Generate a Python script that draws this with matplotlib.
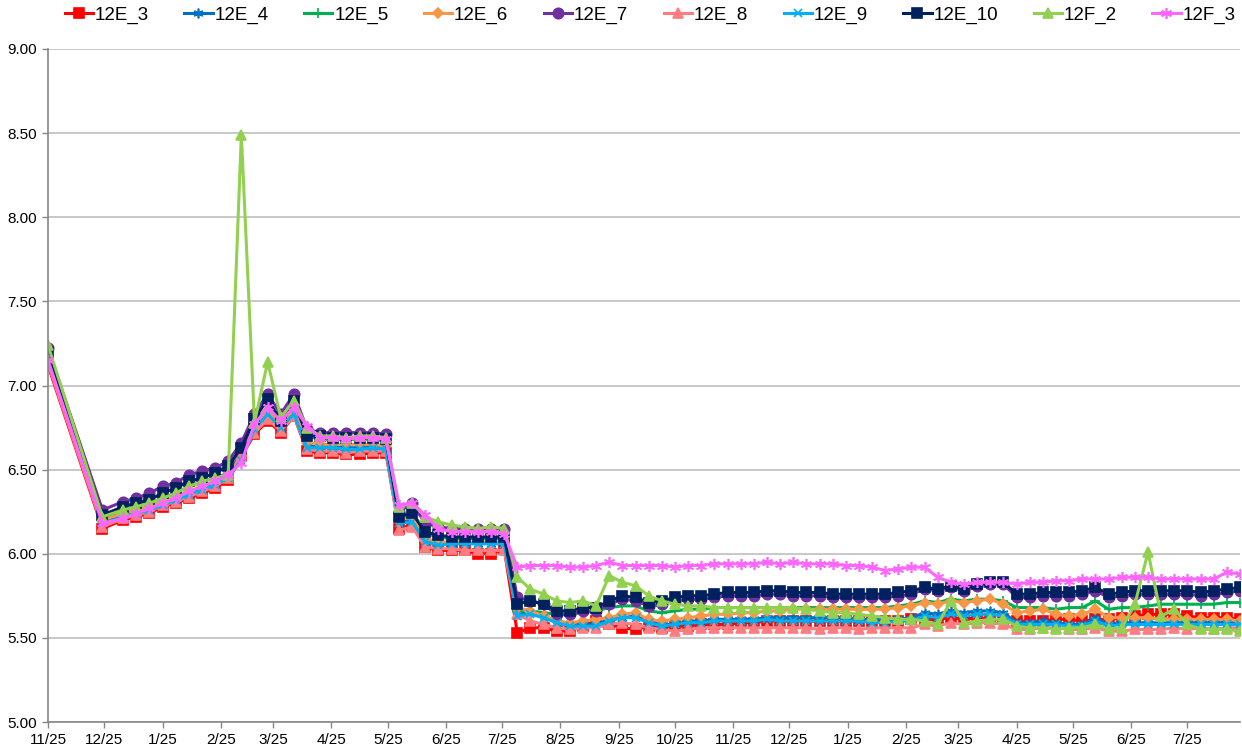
import numpy as np
import pandas as pd
import matplotlib
matplotlib.use('Agg')
import matplotlib.pyplot as plt

plt.rcParams['font.family'] = ['Liberation Sans Narrow', 'Liberation Sans', 'DejaVu Sans']

# 日期：首两个点 + 每周一个点
dates = list(pd.to_datetime(['2012-11-25', '2012-12-24'])) + list(pd.date_range('2013-01-04', periods=86, freq='7D'))
tick_dates = pd.date_range('2012-11-25', '2014-07-25', freq=pd.DateOffset(months=1))
tick_labels = [f"{d.month}/{d.day}" for d in tick_dates]

s_12E_3 = [7.12, 6.15, 6.20, 6.22, 6.24, 6.28, 6.30, 6.33, 6.36, 6.39, 6.44,
           6.58, 6.71, 6.79, 6.72, 6.82, 6.61, 6.60, 6.60, 6.59, 6.59, 6.60, 6.60,
           6.15, 6.17, 6.04, 6.02, 6.02, 6.02, 6.00, 6.00, 6.03,
           5.53, 5.56, 5.56, 5.54, 5.54, 5.57, 5.60, 5.58, 5.56, 5.55,
           5.57, 5.56, 5.57, 5.57, 5.58, 5.58, 5.58, 5.59, 5.59, 5.60,
           5.60, 5.60, 5.60, 5.60, 5.60, 5.60, 5.60, 5.60, 5.60, 5.60,
           5.61, 5.61, 5.61, 5.62, 5.61, 5.62, 5.61, 5.61, 5.60, 5.60,
           5.60, 5.61, 5.61, 5.60, 5.61, 5.61, 5.62, 5.63, 5.64, 5.64,
           5.64, 5.63, 5.62, 5.62, 5.62, 5.61]
s_12E_4 = [7.17, 6.19, 6.23, 6.25, 6.27, 6.30, 6.33, 6.36, 6.39, 6.42, 6.46,
           6.57, 6.75, 6.84, 6.76, 6.85, 6.64, 6.64, 6.64, 6.63, 6.63, 6.64, 6.63,
           6.19, 6.20, 6.08, 6.06, 6.06, 6.06, 6.06, 6.06, 6.06,
           5.64, 5.65, 5.63, 5.60, 5.58, 5.58, 5.58, 5.61, 5.62, 5.63,
           5.60, 5.58, 5.58, 5.60, 5.60, 5.61, 5.61, 5.61, 5.61, 5.62,
           5.62, 5.62, 5.62, 5.62, 5.62, 5.62, 5.61, 5.61, 5.61, 5.61,
           5.62, 5.65, 5.64, 5.66, 5.65, 5.66, 5.66, 5.65, 5.59, 5.59,
           5.60, 5.59, 5.58, 5.58, 5.62, 5.58, 5.59, 5.59, 5.59, 5.59,
           5.59, 5.59, 5.59, 5.59, 5.59, 5.59]
s_12E_5 = [7.19, 6.21, 6.26, 6.28, 6.30, 6.33, 6.36, 6.40, 6.43, 6.45, 6.48,
           6.60, 6.76, 6.88, 6.78, 6.88, 6.70, 6.68, 6.68, 6.68, 6.68, 6.68, 6.67,
           6.22, 6.25, 6.12, 6.10, 6.09, 6.09, 6.09, 6.09, 6.09,
           5.66, 5.66, 5.65, 5.64, 5.64, 5.65, 5.66, 5.68, 5.69, 5.69,
           5.66, 5.65, 5.66, 5.67, 5.67, 5.68, 5.68, 5.68, 5.68, 5.68,
           5.68, 5.68, 5.68, 5.68, 5.68, 5.68, 5.68, 5.68, 5.68, 5.69,
           5.70, 5.72, 5.71, 5.73, 5.72, 5.73, 5.73, 5.72, 5.68, 5.68,
           5.68, 5.67, 5.68, 5.68, 5.72, 5.67, 5.68, 5.68, 5.69, 5.70,
           5.70, 5.70, 5.70, 5.70, 5.71, 5.71]
s_12E_6 = [7.18, 6.20, 6.24, 6.26, 6.28, 6.31, 6.34, 6.37, 6.40, 6.43, 6.46,
           6.58, 6.74, 6.85, 6.77, 6.86, 6.66, 6.65, 6.65, 6.65, 6.65, 6.65, 6.64,
           6.20, 6.22, 6.09, 6.07, 6.07, 6.07, 6.07, 6.07, 6.07,
           5.68, 5.66, 5.63, 5.60, 5.59, 5.60, 5.61, 5.62, 5.64, 5.65,
           5.61, 5.60, 5.61, 5.62, 5.63, 5.64, 5.64, 5.65, 5.65, 5.66,
           5.66, 5.67, 5.67, 5.67, 5.67, 5.67, 5.67, 5.67, 5.67, 5.68,
           5.69, 5.71, 5.70, 5.72, 5.71, 5.72, 5.73, 5.70, 5.65, 5.66,
           5.67, 5.64, 5.63, 5.64, 5.67, 5.62, 5.62, 5.62, 5.62, 5.61,
           5.61, 5.61, 5.61, 5.61, 5.61, 5.60]
s_12E_7 = [7.22, 6.26, 6.31, 6.33, 6.36, 6.40, 6.42, 6.47, 6.49, 6.51, 6.55,
           6.66, 6.83, 6.95, 6.83, 6.95, 6.74, 6.72, 6.72, 6.72, 6.72, 6.72, 6.71,
           6.25, 6.30, 6.18, 6.16, 6.15, 6.15, 6.15, 6.15, 6.15,
           5.74, 5.72, 5.70, 5.64, 5.64, 5.66, 5.66, 5.70, 5.73, 5.72,
           5.69, 5.70, 5.72, 5.73, 5.73, 5.74, 5.75, 5.75, 5.75, 5.76,
           5.76, 5.75, 5.75, 5.75, 5.74, 5.74, 5.74, 5.74, 5.74, 5.75,
           5.76, 5.79, 5.78, 5.80, 5.78, 5.81, 5.82, 5.82, 5.74, 5.74,
           5.75, 5.75, 5.75, 5.76, 5.78, 5.74, 5.75, 5.76, 5.76, 5.76,
           5.76, 5.76, 5.75, 5.76, 5.77, 5.78]
s_12E_8 = [7.13, 6.16, 6.21, 6.23, 6.25, 6.29, 6.31, 6.34, 6.37, 6.40, 6.45,
           6.59, 6.72, 6.80, 6.73, 6.82, 6.62, 6.61, 6.61, 6.60, 6.61, 6.61, 6.61,
           6.14, 6.16, 6.04, 6.03, 6.03, 6.02, 6.02, 6.02, 6.02,
           5.64, 5.60, 5.58, 5.56, 5.55, 5.56, 5.56, 5.58, 5.59, 5.58,
           5.56, 5.55, 5.54, 5.55, 5.56, 5.56, 5.56, 5.56, 5.56, 5.56,
           5.56, 5.56, 5.56, 5.55, 5.56, 5.56, 5.55, 5.56, 5.56, 5.56,
           5.56, 5.58, 5.57, 5.59, 5.58, 5.59, 5.59, 5.58, 5.55, 5.55,
           5.56, 5.56, 5.55, 5.55, 5.56, 5.54, 5.54, 5.55, 5.55, 5.55,
           5.56, 5.55, 5.56, 5.55, 5.56, 5.56]
s_12E_9 = [7.16, 6.18, 6.22, 6.24, 6.26, 6.29, 6.32, 6.35, 6.38, 6.41, 6.45,
           6.56, 6.74, 6.83, 6.75, 6.83, 6.63, 6.63, 6.63, 6.62, 6.62, 6.63, 6.62,
           6.18, 6.19, 6.07, 6.05, 6.06, 6.06, 6.06, 6.06, 6.06,
           5.63, 5.64, 5.62, 5.59, 5.57, 5.57, 5.57, 5.60, 5.62, 5.62,
           5.59, 5.57, 5.58, 5.59, 5.59, 5.60, 5.60, 5.60, 5.60, 5.61,
           5.60, 5.60, 5.60, 5.60, 5.60, 5.60, 5.60, 5.59, 5.59, 5.60,
           5.60, 5.63, 5.62, 5.64, 5.63, 5.64, 5.64, 5.63, 5.58, 5.58,
           5.58, 5.58, 5.57, 5.57, 5.60, 5.57, 5.58, 5.58, 5.58, 5.58,
           5.58, 5.58, 5.58, 5.58, 5.58, 5.58]
s_12E_10 = [7.20, 6.23, 6.28, 6.30, 6.32, 6.36, 6.39, 6.43, 6.45, 6.48, 6.52,
            6.63, 6.80, 6.92, 6.79, 6.91, 6.70, 6.70, 6.69, 6.69, 6.69, 6.69, 6.68,
            6.22, 6.24, 6.13, 6.11, 6.10, 6.10, 6.10, 6.10, 6.10,
            5.70, 5.72, 5.70, 5.66, 5.66, 5.68, 5.68, 5.72, 5.75, 5.74,
            5.71, 5.72, 5.74, 5.75, 5.75, 5.76, 5.77, 5.77, 5.77, 5.78,
            5.78, 5.77, 5.77, 5.77, 5.76, 5.76, 5.76, 5.76, 5.76, 5.77,
            5.78, 5.80, 5.79, 5.81, 5.79, 5.82, 5.83, 5.83, 5.76, 5.76,
            5.77, 5.77, 5.77, 5.78, 5.80, 5.76, 5.77, 5.78, 5.78, 5.78,
            5.78, 5.78, 5.77, 5.78, 5.79, 5.80]
s_12F_2 = [7.24, 6.22, 6.26, 6.28, 6.30, 6.33, 6.36, 6.40, 6.43, 6.45, 6.47,
           8.49, 6.78, 7.14, 6.81, 6.91, 6.75, 6.70, 6.70, 6.69, 6.70, 6.70, 6.69,
           6.28, 6.30, 6.22, 6.19, 6.17, 6.16, 6.15, 6.16, 6.15,
           5.86, 5.79, 5.76, 5.72, 5.71, 5.72, 5.69, 5.87, 5.83, 5.81,
           5.75, 5.72, 5.70, 5.69, 5.69, 5.68, 5.68, 5.68, 5.68, 5.68,
           5.68, 5.68, 5.67, 5.66, 5.65, 5.65, 5.64, 5.63, 5.62, 5.61,
           5.61, 5.60, 5.58, 5.72, 5.59, 5.60, 5.61, 5.61, 5.57, 5.56,
           5.56, 5.55, 5.56, 5.56, 5.58, 5.55, 5.56, 5.70, 6.01, 5.63,
           5.67, 5.58, 5.55, 5.55, 5.55, 5.54]
s_12F_3 = [7.15, 6.18, 6.21, 6.24, 6.27, 6.30, 6.33, 6.37, 6.40, 6.43, 6.47,
           6.54, 6.77, 6.87, 6.79, 6.87, 6.76, 6.69, 6.69, 6.68, 6.69, 6.69, 6.68,
           6.29, 6.30, 6.23, 6.15, 6.13, 6.13, 6.13, 6.13, 6.12,
           5.92, 5.93, 5.93, 5.93, 5.92, 5.92, 5.93, 5.95, 5.93, 5.93,
           5.93, 5.93, 5.92, 5.93, 5.93, 5.94, 5.94, 5.94, 5.94, 5.95,
           5.94, 5.95, 5.94, 5.94, 5.94, 5.93, 5.93, 5.92, 5.90, 5.91,
           5.92, 5.92, 5.86, 5.83, 5.82, 5.83, 5.83, 5.83, 5.82, 5.83,
           5.83, 5.84, 5.84, 5.85, 5.85, 5.85, 5.86, 5.86, 5.86, 5.85,
           5.85, 5.85, 5.85, 5.85, 5.89, 5.88]

series = [
    ('12E_3', s_12E_3, '#FF0000', 's', 6.5),
    ('12E_4', s_12E_4, '#0070C0', (6, 2, 0), 7),
    ('12E_5', s_12E_5, '#00B050', '+', 7),
    ('12E_6', s_12E_6, '#F79646', 'D', 5.5),
    ('12E_7', s_12E_7, '#7030A0', 'o', 7.5),
    ('12E_8', s_12E_8, '#FF7C80', '^', 7.5),
    ('12E_9', s_12E_9, '#00B0F0', 'x', 6),
    ('12E_10', s_12E_10, '#002060', 's', 7),
    ('12F_2', s_12F_2, '#92D050', '^', 7.5),
    ('12F_3', s_12F_3, '#FF66FF', (6, 2, 0), 8),
]

fig = plt.figure(figsize=(12.42, 7.54), dpi=100)
ax = fig.add_axes([48 / 1242, 32 / 754, 1192 / 1242, 673 / 754])

for name, vals, color, mk, ms in series:
    ax.plot(dates, vals, color=color, lw=2.2, marker=mk, markersize=ms,
            markerfacecolor=color, markeredgecolor=color, markeredgewidth=1.2, label=name)

ax.set_ylim(5.0, 9.0)
ax.set_yticks(np.arange(5.0, 9.01, 0.5))
ax.yaxis.set_major_formatter(plt.FormatStrFormatter('%.2f'))
ax.set_xlim(dates[0], dates[-1])
ax.set_xticks(tick_dates)
ax.set_xticklabels(tick_labels)

ax.grid(axis='y', color='#BFBFBF', lw=1.2)
ax.set_axisbelow(True)
for sp in ['top', 'right']:
    ax.spines[sp].set_visible(False)
for sp in ['left', 'bottom']:
    ax.spines[sp].set_color('#868686')
    ax.spines[sp].set_linewidth(1.2)
ax.tick_params(axis='both', colors='#868686', labelcolor='black', labelsize=11, length=4, width=1)
ax.tick_params(axis='x', pad=4)
ax.tick_params(axis='y', pad=4)

fig.legend(loc='center', bbox_to_anchor=(650 / 1242, 1 - 15 / 754), ncol=10, frameon=False,
           fontsize=13.5, handlelength=1.5, handletextpad=0.1, columnspacing=1.9)

fig.savefig('out.png', dpi=100)
